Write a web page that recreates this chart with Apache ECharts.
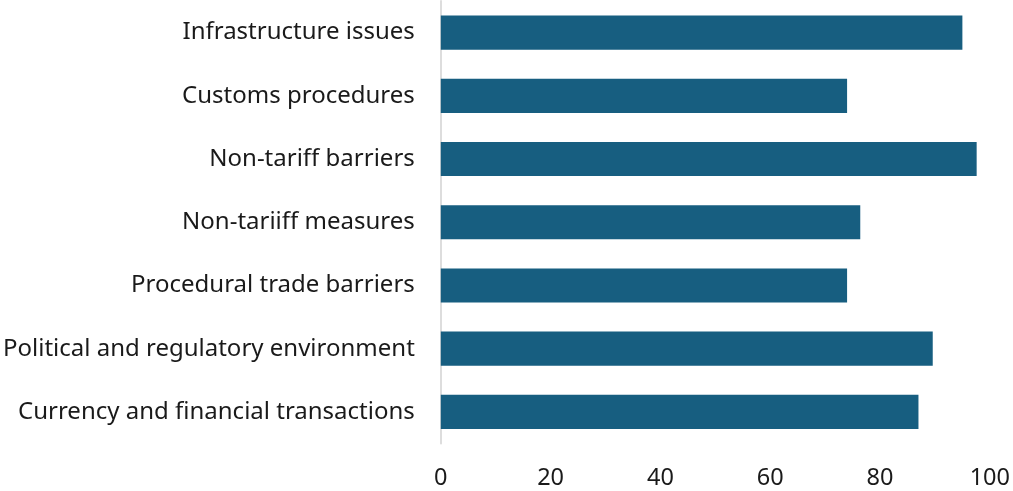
<!DOCTYPE html>
<html><head><meta charset="utf-8">
<script src="https://cdn.jsdelivr.net/npm/echarts@6/dist/echarts.min.js"></script>
<style>html,body{margin:0;padding:0;background:#fff}#c{width:1013px;height:491px}</style>
</head><body><div id="c"></div>
<script>
var categories = ["Infrastructure issues","Customs procedures","Non-tariff barriers","Non-tariiff measures","Procedural trade barriers","Political and regulatory environment","Currency and financial transactions"];
var values = [95, 74, 97.6, 76.4, 74, 89.6, 87];
var xTicks = [0, 20, 40, 60, 80, 100];

var chart = echarts.init(document.getElementById('c'), null, {renderer:'canvas'});
chart.setOption({
  animation:false,
  grid:{left:440.5, right:22, top:1, bottom:47.5, containLabel:false},
  xAxis:{type:'value', min:xTicks[0], max:xTicks[xTicks.length-1], interval:20,
    axisLine:{show:false}, axisTick:{show:false}, splitLine:{show:false},
    axisLabel:{fontFamily:'Noto Sans', fontSize:23.5, color:'#1a1a1a', margin:23}},
  yAxis:{type:'category', data:categories.slice().reverse(), inverse:false,
    axisLine:{show:true, lineStyle:{color:'#dddddd', width:2}}, axisTick:{show:false},
    axisLabel:{fontFamily:'Noto Sans', fontSize:24, color:'#1a1a1a', margin:26}},
  series:[{type:'bar', data:values.slice().reverse(), barCategoryGap:'46%',
    itemStyle:{color:'#175e80'}}]
});
</script></body></html>
